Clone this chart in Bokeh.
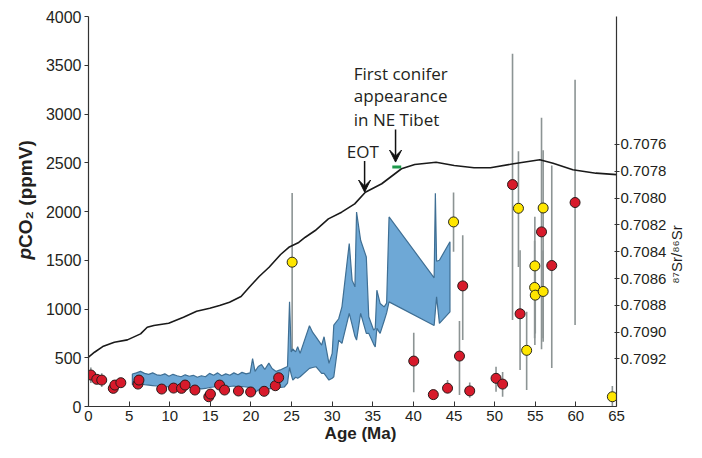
import math
from bokeh.plotting import figure
from bokeh.models import (Range1d, LinearAxis, FixedTicker, PrintfTickFormatter,
                          Label, Arrow, VeeHead)
from bokeh.embed import file_html
from bokeh.resources import INLINE

# ---------------- data ----------------
age_ticks = [0, 5, 10, 15, 20, 25, 30, 35, 40, 45, 50, 55, 60, 65]
co2_ticks = [0, 500, 1000, 1500, 2000, 2500, 3000, 3500, 4000]
sr_ticks = [0.7076, 0.7078, 0.7080, 0.7082, 0.7084, 0.7086, 0.7088, 0.7090, 0.7092]

sr_age = [0.0, 0.74, 1.75, 3.18, 4.79, 6.41, 7.23, 8.04, 9.87, 11.69, 13.31, 14.93,
          16.14, 17.36, 18.78, 19.79, 21.01, 22.23, 23.65, 24.66, 25.88, 26.69,
          27.91, 29.53, 31.16, 32.77, 34.08, 36.1, 38.53, 40.16, 42.79, 45.02,
          47.46, 49.48, 52.32, 55.56, 57.19, 59.62, 62.46, 65.0]
sr_val = [0.709187, 0.70915, 0.709108, 0.709075, 0.709058, 0.709013, 0.708964,
          0.708951, 0.708934, 0.708889, 0.708844, 0.708822, 0.708802, 0.708777,
          0.708734, 0.708665, 0.708585, 0.708516, 0.708421, 0.708367, 0.708331,
          0.708292, 0.708242, 0.708155, 0.708105, 0.708043, 0.707956, 0.707893,
          0.707781, 0.707749, 0.707732, 0.707757, 0.707774, 0.707774, 0.707744,
          0.707714, 0.70774, 0.707789, 0.707814, 0.707825]

band_age = [5.4, 5.9, 6.4, 6.9, 7.4, 7.9, 8.4, 8.9, 9.4, 9.9, 10.4, 10.9, 11.4, 11.9,
            12.4, 12.9, 13.4, 13.9, 14.4, 14.9, 15.4, 15.9, 16.4, 16.9, 17.4, 17.9,
            18.4, 18.9, 19.4, 19.9, 20.2, 20.5, 20.9, 21.3, 21.7, 22.2, 22.6, 23.1,
            23.6, 24.1, 24.5, 24.75, 24.95, 25.15, 25.5, 25.75, 26.05, 27.2, 27.6,
            28.0, 28.7, 29.0, 29.6, 30.0, 30.2, 30.8, 31.2, 32.1, 32.45, 32.8, 33.0,
            33.5, 34.2, 34.5, 35.1, 35.3, 35.5, 35.9, 36.4, 36.7, 37.0, 42.55, 42.7,
            42.85, 43.2, 44.5]
band_high = [333, 345, 360, 340, 330, 345, 325, 320, 335, 310, 330, 315, 305, 325,
             310, 320, 300, 315, 305, 340, 320, 345, 315, 335, 320, 345, 325, 350,
             335, 345, 490, 360, 410, 430, 380, 445, 390, 360, 375, 395, 410, 1075,
             560, 590, 560, 612, 545, 828, 760, 715, 630, 715, 442, 545, 835, 900,
             1022, 1672, 1296, 1227, 1995, 1705, 1534, 920, 784, 800, 1193, 1057,
             1022, 1060, 1944, 1320, 2186, 1490, 1500, 1690]
band_low = [225, 230, 235, 225, 220, 215, 210, 200, 205, 200, 205, 195, 190, 200,
            195, 190, 185, 180, 185, 195, 200, 210, 195, 200, 205, 210, 200, 205,
            200, 195, 150, 140, 170, 165, 175, 180, 185, 190, 195, 200, 240, 400,
            330, 271, 300, 290, 305, 391, 400, 408, 340, 340, 271, 290, 305, 681,
            647, 955, 840, 720, 681, 955, 750, 750, 640, 612, 801, 750, 880, 960,
            1073, 830, 980, 1125, 852, 971]

red_age = [0.29, 1.02, 1.63, 3.05, 3.25, 3.98, 6.09, 6.21, 9.01, 10.47, 11.45, 11.89,
           13.1, 14.81, 15.01, 16.14, 16.75, 18.46, 19.96, 21.62, 23.0, 23.41, 40.04,
           42.45, 44.2, 45.67, 46.07, 46.93, 50.17, 50.98, 52.2, 53.13, 55.77, 57.03,
           59.9]
red_co2 = [323, 279, 271, 186, 220, 244, 230, 271, 179, 189, 186, 220, 169, 100, 128,
           220, 169, 159, 149, 156, 213, 295, 466, 122, 188, 517, 1237, 160, 289, 230,
           2276, 951, 1791, 1446, 2092]
red_lo = [240, 279, 200, 186, 220, 244, 230, 271, 179, 189, 186, 220, 169, 100, 128,
          220, 169, 159, 149, 156, 213, 295, 145, 90, 140, 118, 681, 90, 152, 100,
          886, 374, 586, 394, 835]
red_hi = [400, 279, 340, 186, 220, 244, 230, 271, 179, 189, 186, 220, 169, 100, 128,
          220, 169, 159, 149, 156, 213, 295, 756, 160, 271, 876, 1757, 246, 408, 353,
          3618, 1603, 2962, 2473, 3351]

yel_age = [25.07, 44.94, 52.93, 53.94, 54.92, 54.95, 55.0, 55.97, 55.97, 64.49]
yel_co2 = [1480, 1893, 2033, 576, 1221, 1442, 1142, 2036, 1180, 100]
yel_lo = [420, 1586, 1432, 169, 700, 630, 750, 665, 700, 0]
yel_hi = [2190, 2194, 2617, 971, 1700, 1945, 1500, 2627, 1600, 210]

conifer_age = [37.4, 38.5]
conifer_co2 = [2457, 2457]

# ---------------- figure ----------------
FONT = "Liberation Sans"
ANN = "Open Sans"
TXT = "#231f20"

p = figure(width=686, height=442, output_backend="svg", toolbar_location=None,
           x_range=Range1d(0, 65), y_range=Range1d(0, 4000),
           min_border_left=87, min_border_right=65, min_border_top=16,
           min_border_bottom=36)
p.outline_line_color = None
p.xgrid.visible = False
p.ygrid.visible = False
p.background_fill_color = "white"

p.extra_y_ranges = {"sr": Range1d(start=0.709555, end=0.706645)}

p.xaxis.ticker = FixedTicker(ticks=age_ticks)
p.yaxis.ticker = FixedTicker(ticks=co2_ticks)
for ax in (p.xaxis[0], p.yaxis[0]):
    ax.major_label_text_font = FONT
    ax.major_label_text_color = TXT
    ax.axis_line_color = "#333333"
    ax.axis_line_width = 1.2
    ax.major_tick_line_color = "#333333"
    ax.minor_tick_line_color = None

p.xaxis.major_label_text_font_size = "15px"
p.xaxis.major_tick_in = 5
p.xaxis.major_tick_out = 0
p.xaxis.major_label_standoff = 4

p.yaxis.major_label_text_font_size = "16px"
p.yaxis.major_tick_in = 0
p.yaxis.major_tick_out = 4
p.yaxis.major_label_standoff = 3

rax = LinearAxis(y_range_name="sr", ticker=FixedTicker(ticks=sr_ticks),
                 formatter=PrintfTickFormatter(format="%.4f"))
rax.major_label_text_font = FONT
rax.major_label_text_font_size = "15px"
rax.major_label_text_color = TXT
rax.axis_line_color = "#333333"
rax.axis_line_width = 1.2
rax.major_tick_line_color = "#333333"
rax.minor_tick_line_color = None
rax.major_tick_in = 2
rax.major_tick_out = 3
rax.major_label_standoff = 1
p.add_layout(rax, "right")

# axis titles as labels in side panels
p.add_layout(Label(x=7, y=152, x_units="screen", y_units="screen",
                   text="\u2078\u2077Sr/\u2078\u2076Sr", text_font=FONT,
                   text_font_size="15px", text_color=TXT, angle=math.pi / 2,
                   text_align="center", text_baseline="middle"), "right")
p.add_layout(Label(x=3, y=147, x_units="screen", y_units="screen",
                   text="p", text_font=FONT, text_font_size="19px",
                   text_font_style="bold italic", text_color=TXT, angle=math.pi / 2,
                   text_align="left", text_baseline="middle"), "left")
p.add_layout(Label(x=25, y=158.6, x_units="screen", y_units="screen",
                   text="CO\u2082 (ppmV)", text_font=FONT, text_font_size="19px",
                   text_font_style="bold", text_color=TXT, angle=math.pi / 2,
                   text_align="left", text_baseline="middle"), "left")
p.add_layout(Label(x=272, y=9.5, x_units="screen", y_units="screen",
                   text="Age (Ma)", text_font=FONT, text_font_size="17px",
                   text_font_style="bold", text_color=TXT,
                   text_align="center", text_baseline="alphabetic"), "below")

# error bars
p.segment(x0=red_age, y0=red_lo, x1=red_age, y1=red_hi, line_color="#8c9494", line_width=1.6)
p.segment(x0=yel_age, y0=yel_lo, x1=yel_age, y1=yel_hi, line_color="#8c9494", line_width=1.6)

# blue band
xs = band_age + band_age[::-1]
ys = band_high + band_low[::-1]
p.patch(xs, ys, fill_color="#6ea8d6", line_color="#3f6f94", line_width=1.2)

# Sr curve
p.line(sr_age, sr_val, y_range_name="sr", line_color="#1a1a1a", line_width=1.6)

# points
p.scatter(red_age, red_co2, size=10, fill_color="#d71a2b", line_color="#2a1a1a", line_width=1)
p.scatter(yel_age, yel_co2, size=10, fill_color="#ffe600", line_color="#2a2a1a", line_width=1)

# conifer bar
p.line(conifer_age, conifer_co2, line_color="#1f9a4c", line_width=3)

# annotations
for txt, yv in (("First conifer", 3419), ("appearance", 3190), ("in NE Tibet", 2944)):
    p.add_layout(Label(x=32.66, y=yv, text=txt, text_font=ANN,
                       text_font_size="17px", text_color=TXT,
                       text_align="left", text_baseline="middle"))
p.add_layout(Label(x=33.76, y=2618, text="EOT", text_font=ANN,
                   text_font_size="17px", text_color=TXT,
                   text_align="center", text_baseline="middle"))
p.add_layout(Arrow(end=VeeHead(size=12, fill_color="#111111", line_color="#111111"),
                   x_start=33.99, y_start=2518, x_end=33.99, y_end=2200,
                   line_color="#111111", line_width=1.5))
p.add_layout(Arrow(end=VeeHead(size=12, fill_color="#111111", line_color="#111111"),
                   x_start=37.8, y_start=2842, x_end=37.8, y_end=2507,
                   line_color="#111111", line_width=1.5))

open("out.html", "w").write(file_html(p, INLINE))
